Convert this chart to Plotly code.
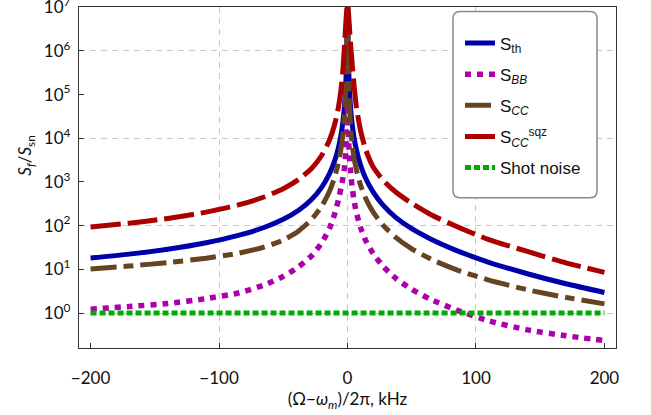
import plotly.graph_objects as go

# Detuning from the mechanical resonance, (Omega - omega_m)/2pi in kHz
DELTA = [-200, -170, -140, -110, -85, -65, -50, -38, -28, -20, -14, -10, -7, -5,
         -3.5, -2.5, -1.5, -0.7, 0, 0.7, 1.5, 2.5, 3.5, 5, 7, 10, 14, 20, 28,
         38, 50, 65, 85, 110, 140, 170, 200]

# Force noise spectra normalised to shot noise
S_TH = [18.2, 22.3, 28.9, 40.6, 59.7, 90.8, 140, 226, 397, 764, 1560, 3050,
        6240, 12200, 25100, 49000, 135000, 617000, 1.2e7, 631000, 135000,
        45700, 22900, 10700, 5370, 2510, 1230, 589, 288, 151, 85.1, 49.0,
        26.9, 14.5, 7.94, 4.68, 2.95]
S_BB = [1.23, 1.41, 1.66, 2.14, 2.88, 4.37, 6.92, 11.5, 20.4, 40.7, 87.1, 186,
        398, 741, 1260, 2000, 3980, 12600, 63100, 12600, 3550, 1620, 813, 389,
        195, 93.3, 46.8, 22.9, 11.5, 6.10, 3.48, 2.03, 1.17, 0.661, 0.412,
        0.302, 0.234]
S_CC = [10.2, 11.9, 14.3, 18.0, 23.4, 32.4, 46.8, 75.9, 138, 282, 617, 1290,
        2820, 5890, 13200, 28200, 100000, 631000, 1.26e7, 501000, 63100,
        15800, 7940, 3720, 1860, 871, 430, 203, 100, 52.7, 29.6, 17.1, 9.75,
        5.68, 3.41, 2.28, 1.62]
S_CC_SQZ = [93.3, 114, 146, 204, 298, 453, 701, 1140, 2040, 4090, 9140, 20700,
            52500, 135000, 389000, 1.12e6, 3.55e6, 7.94e6, 1.26e7, 7.94e6,
            3.55e6, 1.26e6, 562000, 178000, 50100, 15800, 5620, 2190, 1070,
            575, 324, 178, 95.5, 47.9, 25.7, 14.1, 8.51]
SHOT_X = [-200, 200]
SHOT_NOISE = [1.0, 1.0]

X_TICKS = [-200, -100, 0, 100, 200]
X_GRID = [-100, 0, 100]
Y_TICKS = [1e0, 1e1, 1e2, 1e3, 1e4, 1e5, 1e6, 1e7]
Y_TICKTEXT = ["10<sup>0</sup>", "10<sup>1</sup>", "10<sup>2</sup>", "10<sup>3</sup>",
              "10<sup>4</sup>", "10<sup>5</sup>", "10<sup>6</sup>", "10<sup>7</sup>"]
Y_GRID = [1e0, 1e2, 1e4, 1e6]

X_RANGE = [-209, 209]
Y_RANGE = [-0.8, 7.005]  # log10 units

AXIS_FONT = dict(family="Lato, Open Sans, sans-serif", size=17, color="#111")
LEGEND_FONT = dict(family="Liberation Sans, Arial, sans-serif", size=17, color="#111")

fig = go.Figure()

series = [
    ("S<sub>th</sub>", S_TH, "#0000AB", "solid", 5),
    ("S<sub><i>BB</i></sub>", S_BB, "#AB00AB", "6px,6px", 5.5),
    ("S<sub><i>CC</i></sub>", S_CC, "#664422", "26px,7px,10px,7px", 5),
    ("S<sub><i>CC</i></sub><sup>sqz</sup>", S_CC_SQZ, "#AB0000", "30px,7px", 5),
]
for i, (name, vals, color, dash, width) in enumerate(series):
    fig.add_trace(go.Scatter(
        x=DELTA, y=vals, mode="lines", name=name,
        line=dict(color=color, dash=dash, width=width, shape="spline",
                  smoothing=0.6),
        legendgroup=f"g{i}", hoverinfo="skip",
    ))

# shot-noise level sits on the overlay axes so it is drawn last
fig.add_trace(go.Scatter(
    x=SHOT_X, y=SHOT_NOISE, mode="lines", name="Shot noise",
    line=dict(color="#00AB00", dash="6px,3px", width=5),
    legendgroup="g4", xaxis="x2", yaxis="y2", hoverinfo="skip",
))

frame = dict(showline=True, linecolor="#333", linewidth=1.3, mirror=True,
             zeroline=False, automargin=False)

fig.update_layout(
    width=651, height=415,
    margin=dict(l=79, r=35, t=7, b=67),
    paper_bgcolor="white", plot_bgcolor="white",
    showlegend=True,
    xaxis=dict(
        range=X_RANGE, tickvals=X_TICKS, ticks="inside", ticklen=5,
        tickcolor="#333", showgrid=False, tickfont=AXIS_FONT,
        ticklabelstandoff=14,
        title=dict(text="(Ω−<i>ω</i><sub><i>m</i></sub>)/2π, kHz",
                   font=AXIS_FONT, standoff=6),
        **frame,
    ),
    yaxis=dict(
        type="log", range=Y_RANGE, tickvals=Y_TICKS, ticktext=Y_TICKTEXT,
        ticks="inside", ticklen=5, tickcolor="#333", showgrid=False,
        tickfont=AXIS_FONT, ticklabelstandoff=4, ticklabeloverflow="allow",
        **frame,
    ),
    xaxis2=dict(
        range=X_RANGE, overlaying="x", anchor="y2", tickvals=X_GRID,
        showticklabels=False, ticks="", showline=False, zeroline=False,
        showgrid=True, gridcolor="#C8C8C8", gridwidth=1, griddash="6px,5px",
        automargin=False,
    ),
    yaxis2=dict(
        type="log", range=Y_RANGE, overlaying="y", anchor="x2",
        tickvals=Y_GRID, showticklabels=False, ticks="", showline=False,
        zeroline=False, showgrid=True, gridcolor="#C8C8C8", gridwidth=1,
        griddash="6px,5px", automargin=False,
    ),
    legend=dict(
        x=(460 - 79) / 537, y=(348 - 26) / 340.5, xanchor="left", yanchor="top",
        bgcolor="rgba(0,0,0,0)", borderwidth=0, font=LEGEND_FONT,
        tracegroupgap=6, itemwidth=30,
    ),
    annotations=[dict(
        text="<i>S</i><sub><i>f</i></sub>/<i>S</i><sub>sn</sub>",
        xref="paper", yref="paper", x=(26 - 79) / 537, y=(348 - 155) / 340.5,
        textangle=-90, showarrow=False, font=dict(AXIS_FONT, size=17),
        xanchor="center", yanchor="middle",
    )],
)

# rounded frame behind the legend
x0, x1 = (453 - 79) / 537, (597 - 79) / 537
y0, y1 = (348 - 198) / 340.5, (348 - 12) / 340.5
rx, ry = 7 / 537, 7 / 340.5
path = (f"M{x0 + rx},{y1} L{x1 - rx},{y1} Q{x1},{y1} {x1},{y1 - ry} "
        f"L{x1},{y0 + ry} Q{x1},{y0} {x1 - rx},{y0} L{x0 + rx},{y0} "
        f"Q{x0},{y0} {x0},{y0 + ry} L{x0},{y1 - ry} Q{x0},{y1} {x0 + rx},{y1} Z")
fig.add_shape(type="path", path=path, xref="paper", yref="paper",
              line=dict(color="#8A8A8A", width=1.5), fillcolor="white",
              layer="above")

fig.write_html("out.html")
